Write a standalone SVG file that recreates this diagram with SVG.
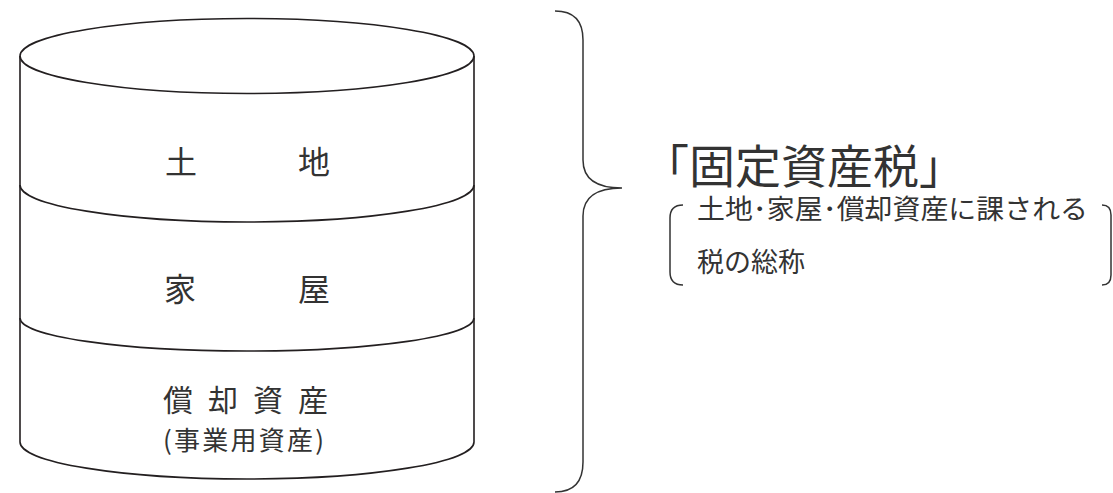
<svg xmlns="http://www.w3.org/2000/svg" width="1113" height="493" viewBox="0 0 1113 493">
<style>
.ln{fill:none;stroke:#231f20;stroke-width:1.6}
.br{fill:none;stroke:#333;stroke-width:1.5}
.t{font-family:"Noto Sans CJK JP","Noto Sans CJK SC",sans-serif;fill:#333}
</style>
<rect width="1113" height="493" fill="#fff"/>
<g id="cylinder">
<path class="ln" d="M20,56 L20,442 A227,37 0 0 0 474,442 L474,56"/>
<ellipse class="ln" cx="247" cy="56" rx="227" ry="37.5"/>
</g>
<g id="connectors">
<path class="ln" d="M20,185 A227,37 0 0 0 474,185"/>
<path class="ln" d="M20,318 A227,33 0 0 0 474,318"/>
</g>
<g id="node-land">
<text class="t" x="165" y="174" font-size="32">土</text>
<text class="t" x="298" y="174" font-size="32">地</text>
</g>
<g id="node-house">
<text class="t" x="164" y="301" font-size="32">家</text>
<text class="t" x="298" y="301" font-size="32">屋</text>
</g>
<g id="node-assets">
<text class="t" x="163" y="411" font-size="30" textLength="165" lengthAdjust="spacing">償却資産</text>
<text class="t" x="163" y="450" font-size="26" textLength="161" lengthAdjust="spacing">(事業用資産)</text>
</g>
<g id="brace">
<path class="br" d="M555,11 Q583,11 583,40 L583,160 Q583,188 622,188 Q583,188 583,216 L583,462 Q583,492 555,492"/>
</g>
<g id="node-tax">
<text class="t" x="643" y="183" font-size="46">「固定資産税」</text>
<path class="br" d="M683,205 Q670,205 670,218 L670,272 Q670,285 683,285"/>
<text class="t" x="697" y="219" font-size="27" textLength="391" lengthAdjust="spacingAndGlyphs">土地･家屋･償却資産に課される</text>
<text class="t" x="697" y="272" font-size="27">税の総称</text>
<path class="br" d="M1102,205 Q1111,205 1111,215 L1111,275 Q1111,285 1102,285"/>
</g>
</svg>
